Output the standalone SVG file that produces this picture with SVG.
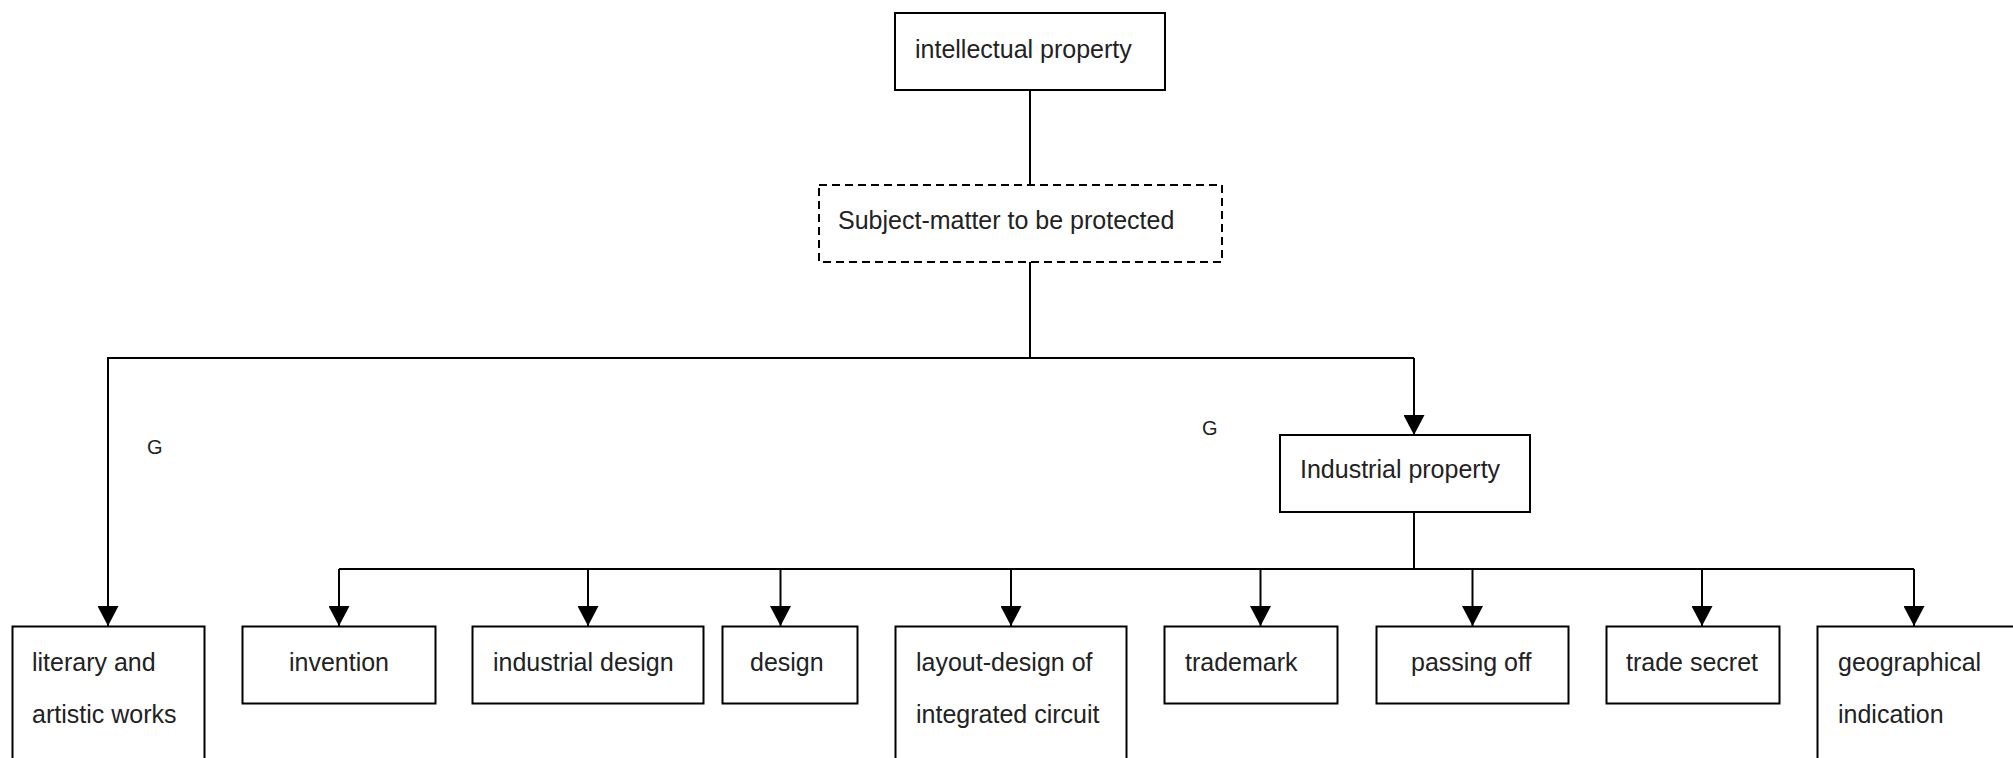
<svg xmlns="http://www.w3.org/2000/svg" width="2013" height="758" viewBox="0 0 2013 758">
<defs>
<style>
.box{fill:#fff;stroke:#000;stroke-width:2}
.dash{fill:#fff;stroke:#000;stroke-width:2;stroke-dasharray:8 5}
.t{font-family:"Liberation Sans",Arial,sans-serif;font-size:25px;fill:#222}
.g{font-family:"Liberation Sans",Arial,sans-serif;font-size:20px;fill:#222}
.c{fill:none;stroke:#000;stroke-width:2}
</style>
<marker id="arr" viewBox="0 0 20 21" refX="20" refY="10.5" markerWidth="20" markerHeight="21" markerUnits="userSpaceOnUse" orient="auto">
<path d="M0,0 L20,10.5 L0,21 Z" fill="#000"/>
</marker>
</defs>
<rect width="2013" height="758" fill="#fff"/>
<g id="connectors">
<line class="c" x1="1030" y1="90" x2="1030" y2="185"/>
<line class="c" x1="1030" y1="262" x2="1030" y2="358"/>
<polyline class="c" points="108,626 108,358 1414,358"/>
<line class="c" x1="108" y1="600" x2="108" y2="626" marker-end="url(#arr)"/>
<line class="c" x1="1414" y1="358" x2="1414" y2="435" marker-end="url(#arr)"/>
<line class="c" x1="1414" y1="512" x2="1414" y2="569"/>
<line class="c" x1="339" y1="569" x2="1914" y2="569"/>
<line class="c" x1="339" y1="569" x2="339" y2="626" marker-end="url(#arr)"/>
<line class="c" x1="588" y1="569" x2="588" y2="626" marker-end="url(#arr)"/>
<line class="c" x1="780.5" y1="569" x2="780.5" y2="626" marker-end="url(#arr)"/>
<line class="c" x1="1011" y1="569" x2="1011" y2="626" marker-end="url(#arr)"/>
<line class="c" x1="1260.5" y1="569" x2="1260.5" y2="626" marker-end="url(#arr)"/>
<line class="c" x1="1472.5" y1="569" x2="1472.5" y2="626" marker-end="url(#arr)"/>
<line class="c" x1="1702" y1="569" x2="1702" y2="626" marker-end="url(#arr)"/>
<line class="c" x1="1914" y1="569" x2="1914" y2="626" marker-end="url(#arr)"/>
</g>
<g id="n-intellectual">
<rect class="box" x="895" y="13" width="270" height="77"/>
<text class="t" x="915" y="58">intellectual property</text>
</g>
<g id="n-subject">
<rect class="dash" x="819" y="185" width="403" height="77"/>
<text class="t" x="838" y="229">Subject-matter to be protected</text>
</g>
<g id="n-industrial">
<rect class="box" x="1280" y="435" width="250" height="77"/>
<text class="t" x="1300" y="478">Industrial property</text>
</g>
<g id="lbl-g1"><text class="g" x="147" y="454">G</text></g>
<g id="lbl-g2"><text class="g" x="1202" y="435">G</text></g>
<g id="n-literary">
<rect class="box" x="12.5" y="626.5" width="192" height="150"/>
<text class="t" x="32" y="671">literary and</text>
<text class="t" x="32" y="723">artistic works</text>
</g>
<g id="n-invention">
<rect class="box" x="242.5" y="626.5" width="193" height="77"/>
<text class="t" x="339" y="671" text-anchor="middle">invention</text>
</g>
<g id="n-inddesign">
<rect class="box" x="472.5" y="626.5" width="231" height="77"/>
<text class="t" x="493" y="671">industrial design</text>
</g>
<g id="n-design">
<rect class="box" x="722.5" y="626.5" width="135" height="77"/>
<text class="t" x="750" y="671">design</text>
</g>
<g id="n-layout">
<rect class="box" x="895.5" y="626.5" width="231" height="150"/>
<text class="t" x="916" y="671">layout-design of</text>
<text class="t" x="916" y="723">integrated circuit</text>
</g>
<g id="n-trademark">
<rect class="box" x="1164.5" y="626.5" width="173" height="77"/>
<text class="t" x="1185" y="671">trademark</text>
</g>
<g id="n-passing">
<rect class="box" x="1376.5" y="626.5" width="192" height="77"/>
<text class="t" x="1411" y="671">passing off</text>
</g>
<g id="n-tradesecret">
<rect class="box" x="1606.5" y="626.5" width="173" height="77"/>
<text class="t" x="1626" y="671">trade secret</text>
</g>
<g id="n-geo">
<rect class="box" x="1817.5" y="626.5" width="220" height="150"/>
<text class="t" x="1838" y="671">geographical</text>
<text class="t" x="1838" y="723">indication</text>
</g>
</svg>
